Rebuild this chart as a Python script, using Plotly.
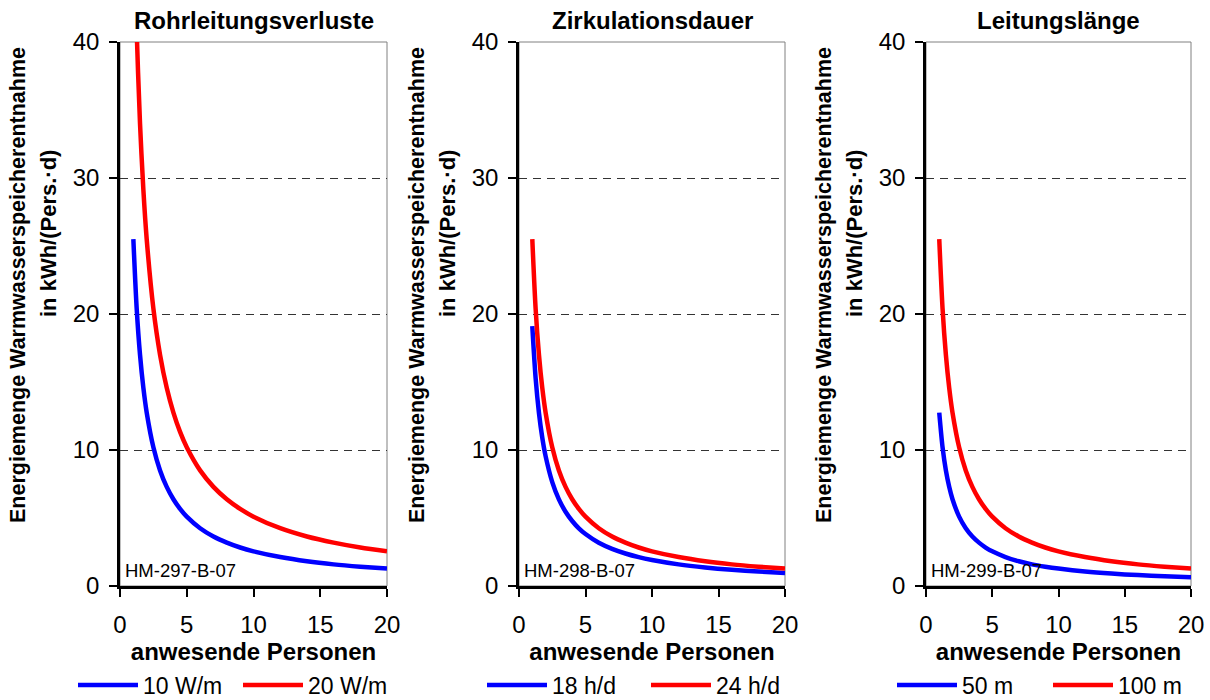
import plotly.graph_objects as go

# Number of persons present (x values shared by all curves)
persons = [1, 1.25, 1.5, 1.75, 2, 2.5, 3, 3.5, 4, 4.5, 5, 6, 7, 8, 9, 10, 12, 14, 16, 18, 20]

# Rohrleitungsverluste: 10 W/m and 20 W/m
pipe_10 = [25.5, 20.4, 17.0, 14.57, 12.75, 10.2, 8.5, 7.29, 6.38, 5.67, 5.1, 4.25, 3.64, 3.19, 2.83, 2.55, 2.13, 1.82, 1.59, 1.42, 1.28]
pipe_20 = [51.0, 40.8, 34.0, 29.14, 25.5, 20.4, 17.0, 14.57, 12.75, 11.33, 10.2, 8.5, 7.29, 6.38, 5.67, 5.1, 4.25, 3.64, 3.19, 2.83, 2.55]

# Zirkulationsdauer: 18 h/d and 24 h/d
circ_18 = [19.1, 15.28, 12.73, 10.91, 9.55, 7.64, 6.37, 5.46, 4.78, 4.24, 3.82, 3.18, 2.73, 2.39, 2.12, 1.91, 1.59, 1.36, 1.19, 1.06, 0.96]
circ_24 = [25.5, 20.4, 17.0, 14.57, 12.75, 10.2, 8.5, 7.29, 6.38, 5.67, 5.1, 4.25, 3.64, 3.19, 2.83, 2.55, 2.13, 1.82, 1.59, 1.42, 1.28]

# Leitungslänge: 50 m and 100 m
len_50 = [12.75, 10.2, 8.5, 7.29, 6.38, 5.1, 4.25, 3.64, 3.19, 2.83, 2.55, 2.13, 1.82, 1.59, 1.42, 1.28, 1.06, 0.91, 0.8, 0.71, 0.64]
len_100 = [25.5, 20.4, 17.0, 14.57, 12.75, 10.2, 8.5, 7.29, 6.38, 5.67, 5.1, 4.25, 3.64, 3.19, 2.83, 2.55, 2.13, 1.82, 1.59, 1.42, 1.28]

panel_titles = ["Rohrleitungsverluste", "Zirkulationsdauer", "Leitungslänge"]
panel_codes = ["HM-297-B-07", "HM-298-B-07", "HM-299-B-07"]
series_names = [["10 W/m", "20 W/m"], ["18 h/d", "24 h/d"], ["50 m", "100 m"]]
series_values = [[pipe_10, pipe_20], [circ_18, circ_24], [len_50, len_100]]

x_ticks = [0, 5, 10, 15, 20]
y_ticks = [0, 10, 20, 30, 40]
x_title = "anwesende Personen"
y_title_1 = "Energiemenge Warmwasserspeicherentnahme"
y_title_2 = "in kWh/(Pers.·d)"

W, H = 1210, 700
FONT = "Arial, Liberation Sans, sans-serif"
BLUE, RED = "#0000FF", "#FF0000"

# Plot areas in pixels (left, right), shared top/bottom
panel_px = [(120, 387), (519, 785), (926, 1191)]
top_px, bottom_px = 42, 586
legend_x_px = [73, 482, 892]
legend_entry_w = [90, 89, 81]

def px_x(p):
    return p / W

def px_y(p):
    return 1 - p / H

fig = go.Figure()
layout = dict(
    width=W, height=H,
    margin=dict(l=0, r=0, t=0, b=0, autoexpand=False),
    paper_bgcolor="white", plot_bgcolor="white",
    font=dict(family=FONT, color="black", size=24),
    annotations=[], shapes=[],
)

for i in range(3):
    sfx = "" if i == 0 else str(i + 1)
    xa, ya = "x" + sfx, "y" + sfx
    leg = "legend" + sfx
    for name, vals, col in zip(series_names[i], series_values[i], [BLUE, RED]):
        fig.add_trace(go.Scatter(
            x=persons, y=vals, name=name, mode="lines",
            line=dict(color=col, width=4.5, shape="spline", smoothing=0.8),
            xaxis=xa, yaxis=ya, legend=leg,
        ))

    l, r = panel_px[i]
    layout["xaxis" + sfx] = dict(
        domain=[px_x(l), px_x(r)], anchor=ya, range=[0, 20],
        tickvals=x_ticks, ticks="outside", ticklen=8, tickwidth=2, tickcolor="black",
        showline=True, linewidth=2.5, linecolor="black", mirror=False,
        showgrid=False, zeroline=False, ticklabelstandoff=7,
        tickfont=dict(size=24),
        title=dict(text="<b>" + x_title + "</b>", font=dict(size=24), standoff=0),
    )
    layout["yaxis" + sfx] = dict(
        domain=[px_y(bottom_px), px_y(top_px)], anchor=xa, range=[0, 40],
        tickvals=y_ticks, ticks="outside", ticklen=8, tickwidth=2, tickcolor="black",
        showline=True, linewidth=2.5, linecolor="black", mirror=False,
        showgrid=True, gridcolor="#333333", gridwidth=1, griddash="8px,6px",
        zeroline=False, ticklabelstandoff=5, tickfont=dict(size=24),
    )
    # thin frame on top/right of the plot area
    layout["shapes"].append(dict(
        type="rect", xref=xa + " domain", yref=ya + " domain",
        x0=0, x1=1, y0=0, y1=1, line=dict(color="#808080", width=1), layer="below",
    ))
    # panel title
    layout["annotations"].append(dict(
        text="<b>" + panel_titles[i] + "</b>", xref="paper", yref="paper",
        x=px_x((l + r) / 2), y=px_y(20), xanchor="center", yanchor="middle",
        showarrow=False, font=dict(size=24),
    ))
    # y axis title, two lines
    layout["annotations"].append(dict(
        text="<b>" + y_title_1 + "</b>", xref="paper", yref="paper",
        x=px_x(l - 102), y=px_y(285), xanchor="center", yanchor="middle",
        textangle=-90, showarrow=False, font=dict(size=21.5),
    ))
    layout["annotations"].append(dict(
        text="<b>" + y_title_2 + "</b>", xref="paper", yref="paper",
        x=px_x(l - 72), y=px_y(234), xanchor="center", yanchor="middle",
        textangle=-90, showarrow=False, font=dict(size=22),
    ))
    # diagram code
    layout["annotations"].append(dict(
        text=panel_codes[i], xref="paper", yref="paper",
        x=px_x(l + 3), y=px_y(570), xanchor="left", yanchor="middle",
        showarrow=False, font=dict(size=18.5),
    ))
    layout[leg] = dict(
        orientation="h", x=px_x(legend_x_px[i]), y=px_y(685),
        xanchor="left", yanchor="middle", font=dict(size=23),
        bgcolor="rgba(0,0,0,0)", entrywidth=legend_entry_w[i], entrywidthmode="pixels",
        itemwidth=60, tracegroupgap=0,
    )

fig.update_layout(**layout)
fig.write_html("out.html")
